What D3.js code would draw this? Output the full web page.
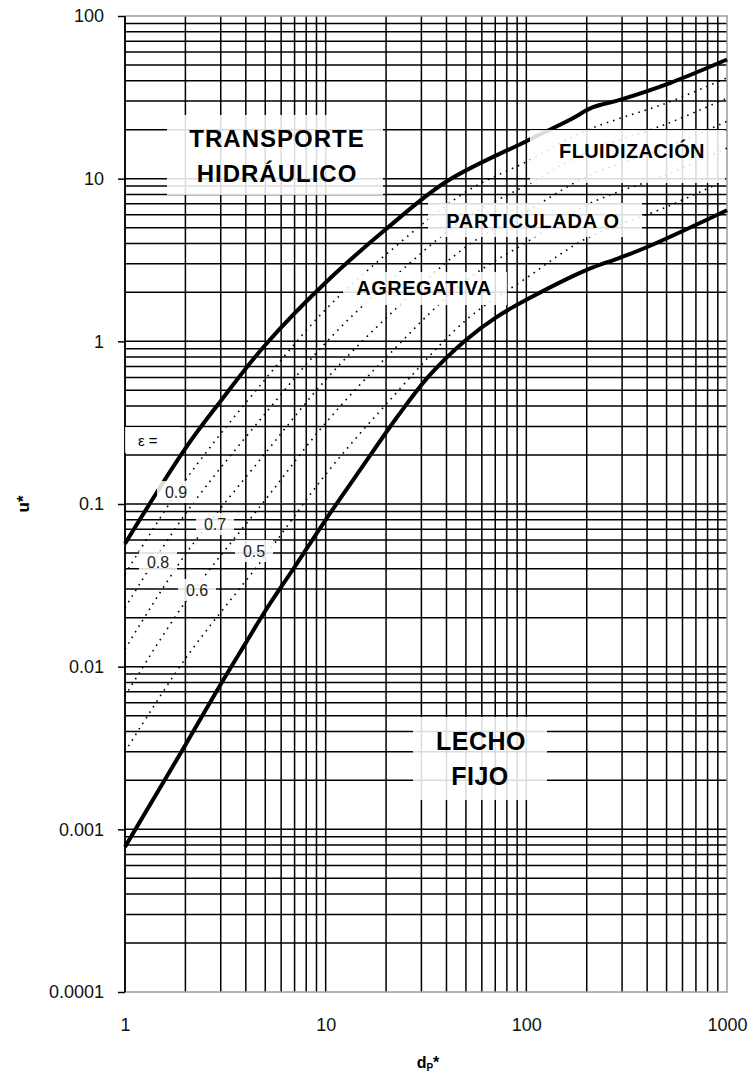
<!DOCTYPE html>
<html>
<head>
<meta charset="utf-8">
<script src="https://cdn.jsdelivr.net/npm/d3@7"></script>
<style>
	body { margin: 0; background: #fff; }
	svg { display: block; font-family: "Liberation Sans", Arial, sans-serif; }
</style>
</head>
<body>
<div id="chart"></div>
<script>
// tick labels
const xTicks = [1, 10, 100, 1000];
const xTickLabels = ['1', '10', '100', '1000'];
const yTicks = [0.0001, 0.001, 0.01, 0.1, 1, 10, 100];
const yTickLabels = ['0.0001', '0.001', '0.01', '0.1', '1', '10', '100'];

// transporte hidraulico boundary (thick upper line)
const upperX = [1, 2, 3, 5, 10, 20, 40, 100, 165, 215, 292, 519, 1000];
const upperY = [0.057, 0.22, 0.43, 0.95, 2.3, 4.9, 9.6, 17, 23, 27.5, 30.5, 38.7, 54];

// lecho fijo boundary (thick lower line)
const lowerX = [1, 2, 3, 4, 5, 7, 10, 15, 23, 33, 50, 71, 100, 200, 290, 400, 1000];
const lowerY = [0.00078, 0.0033, 0.0078, 0.014, 0.022, 0.041, 0.08, 0.165, 0.35, 0.62, 1.02, 1.41, 1.8, 2.75, 3.25, 3.8, 6.4];

// dotted porosity lines
const epsX = [1, 2, 5, 10, 20, 50, 100, 200, 500, 1000];
const eps09 = [0.037, 0.14, 0.585, 1.57, 3.42, 8.3, 12.7, 19.8, 29.2, 41.7];
const eps08 = [0.023, 0.087, 0.36, 0.98, 2.24, 5.75, 9.1, 14.6, 21.7, 31.3];
const eps07 = [0.0128, 0.049, 0.205, 0.58, 1.39, 3.81, 6.26, 10.3, 15.6, 22.5];
const eps06 = [0.0066, 0.025, 0.106, 0.315, 0.795, 2.36, 4.06, 6.9, 10.6, 15.4];
const eps05 = [0.003, 0.0112, 0.048, 0.152, 0.41, 1.35, 2.45, 4.3, 6.7, 9.9];

const width = 748, height = 1080;
const margins = { top: 16, left: 125, right: 21, bottom: 88 };

const svg = d3.select('#chart').append('svg')
	.attr('width', width)
	.attr('height', height);

const xScale = d3.scaleLog()
	.domain([1, 1000])
	.range([margins.left, width - margins.right]);
const yScale = d3.scaleLog()
	.domain([0.0001, 100])
	.range([height - margins.bottom, margins.top]);

// grid: every 1..9 in each decade, same weight for major and minor
let gridX = [], gridY = [];
for (let d = 1; d < 1000; d *= 10) {
	for (let k = 1; k <= 9; k++) gridX.push(d * k);
}
for (let d = 0.0001; d < 99; d *= 10) {
	for (let k = 1; k <= 9; k++) if (!(d === 0.0001 && k === 1)) gridY.push(d * k);
}

const grid = svg.append('g').attr('class', 'grid');
grid.selectAll('line.gx').data(gridX).enter().append('line')
	.attr('class', 'gx')
	.attr('x1', d => xScale(d)).attr('x2', d => xScale(d))
	.attr('y1', yScale(0.0001)).attr('y2', yScale(100))
	.attr('stroke', '#000').attr('stroke-width', 1.5);
grid.selectAll('line.gy').data(gridY).enter().append('line')
	.attr('class', 'gy')
	.attr('y1', d => yScale(d)).attr('y2', d => yScale(d))
	.attr('x1', xScale(1)).attr('x2', xScale(1000))
	.attr('stroke', '#000').attr('stroke-width', 1.5);

// grey frame on top, right and bottom
svg.append('path')
	.attr('d', `M${xScale(1)},${yScale(100)}H${xScale(1000)}V${yScale(0.0001)}H${xScale(1)}`)
	.attr('fill', 'none')
	.attr('stroke', '#9a9a9a')
	.attr('stroke-width', 1.5);
svg.append('line')
	.attr('x1', xScale(1)).attr('x2', xScale(1))
	.attr('y1', yScale(100)).attr('y2', yScale(0.0001))
	.attr('stroke', '#000').attr('stroke-width', 1.5);

// axes
const yAxis = d3.axisLeft(yScale)
	.tickValues(yTicks)
	.tickFormat((d, i) => yTickLabels[i])
	.tickSize(7)
	.tickPadding(14);
const gY = svg.append('g')
	.attr('transform', `translate(${margins.left},0)`)
	.call(yAxis);
gY.select('.domain').remove();
gY.selectAll('line').attr('stroke', '#000').attr('stroke-width', 1.5);
gY.selectAll('text').attr('font-size', '18px').attr('fill', '#111')
	.attr('font-family', '"Liberation Sans", Arial, sans-serif');

const xAxis = d3.axisBottom(xScale)
	.tickValues(xTicks)
	.tickFormat((d, i) => xTickLabels[i])
	.tickSize(0)
	.tickPadding(26);
const gX = svg.append('g')
	.attr('transform', `translate(0,${height - margins.bottom})`)
	.call(xAxis);
gX.select('.domain').remove();
gX.selectAll('text').attr('font-size', '18px').attr('fill', '#111')
	.attr('font-family', '"Liberation Sans", Arial, sans-serif');

// axis titles
svg.append('text')
	.attr('transform', `translate(29,${(margins.top + height - margins.bottom) / 2}) rotate(-90)`)
	.attr('text-anchor', 'middle')
	.attr('font-size', '17px')
	.attr('font-weight', 'bold')
	.text('u*');
const xt = svg.append('text')
	.attr('x', 428)
	.attr('y', 1068)
	.attr('text-anchor', 'middle')
	.attr('font-size', '16px')
	.attr('font-weight', 'bold');
xt.append('tspan').text('d');
xt.append('tspan').attr('font-size', '10px').attr('dy', 3).text('P');
xt.append('tspan').attr('dy', -3).text('*');

// curves
const line = d3.line()
	.x(d => xScale(d[0]))
	.y(d => yScale(d[1]))
	.curve(d3.curveCatmullRom.alpha(0.5));

const curves = svg.append('g').attr('class', 'curves');
curves.append('path')
	.datum(upperX.map((x, i) => [x, upperY[i]]))
	.attr('d', line)
	.attr('fill', 'none').attr('stroke', '#000').attr('stroke-width', 4);
curves.append('path')
	.datum(lowerX.map((x, i) => [x, lowerY[i]]))
	.attr('d', line)
	.attr('fill', 'none').attr('stroke', '#000').attr('stroke-width', 4);

[eps09, eps08, eps07, eps06, eps05].forEach(s => {
	curves.append('path')
		.datum(epsX.map((x, i) => [x, s[i]]))
		.attr('d', line)
		.attr('fill', 'none')
		.attr('stroke', '#000')
		.attr('stroke-width', 1.6)
		.attr('stroke-dasharray', '1.6,5');
});

// label boxes (semi-transparent white so the grid shows through faintly)
const boxes = [
	[167, 115, 383, 195],
	[530, 130, 725, 183],
	[428, 203, 642, 237],
	[343, 272, 507, 305],
	[413, 717, 547, 800],
	[125, 427, 180, 453]
];
svg.append('g').selectAll('rect').data(boxes).enter().append('rect')
	.attr('x', d => d[0]).attr('y', d => d[1])
	.attr('width', d => d[2] - d[0]).attr('height', d => d[3] - d[1])
	.attr('fill', '#fff').attr('fill-opacity', 0.86);

const bigLabels = [
	{ t: 'TRANSPORTE', x: 277, y: 147, s: 24, ls: 1 },
	{ t: 'HIDRÁULICO', x: 277, y: 182, s: 24, ls: 1 },
	{ t: 'FLUIDIZACIÓN', x: 632, y: 158, s: 20, ls: 0.4 },
	{ t: 'PARTICULADA O', x: 533, y: 228, s: 20, ls: 0.8 },
	{ t: 'AGREGATIVA', x: 424, y: 295, s: 20, ls: 0.5 },
	{ t: 'LECHO', x: 481, y: 750, s: 25, ls: 0.5 },
	{ t: 'FIJO', x: 480, y: 785, s: 25, ls: 0.5 }
];
svg.append('g').selectAll('text').data(bigLabels).enter().append('text')
	.attr('x', d => d.x).attr('y', d => d.y)
	.attr('text-anchor', 'middle')
	.attr('font-size', d => d.s + 'px')
	.attr('font-weight', 'bold')
	.attr('letter-spacing', d => d.ls)
	.text(d => d.t);

svg.append('text')
	.attr('x', 138).attr('y', 446)
	.attr('font-size', '15px')
	.text('ε =');

// porosity values, each on a small white patch
const epsLabels = [
	{ t: '0.9', x: 176, y: 498 },
	{ t: '0.7', x: 215, y: 530 },
	{ t: '0.5', x: 254, y: 557 },
	{ t: '0.8', x: 158, y: 568 },
	{ t: '0.6', x: 197, y: 596 }
];
const eg = svg.append('g');
eg.selectAll('rect').data(epsLabels).enter().append('rect')
	.attr('x', d => d.x - 19).attr('y', d => d.y - 17)
	.attr('width', 38).attr('height', 22)
	.attr('fill', '#fff').attr('fill-opacity', 0.86);
eg.selectAll('text').data(epsLabels).enter().append('text')
	.attr('x', d => d.x).attr('y', d => d.y)
	.attr('text-anchor', 'middle')
	.attr('font-size', '16px')
	.attr('fill', '#222')
	.text(d => d.t);
</script>
</body>
</html>
